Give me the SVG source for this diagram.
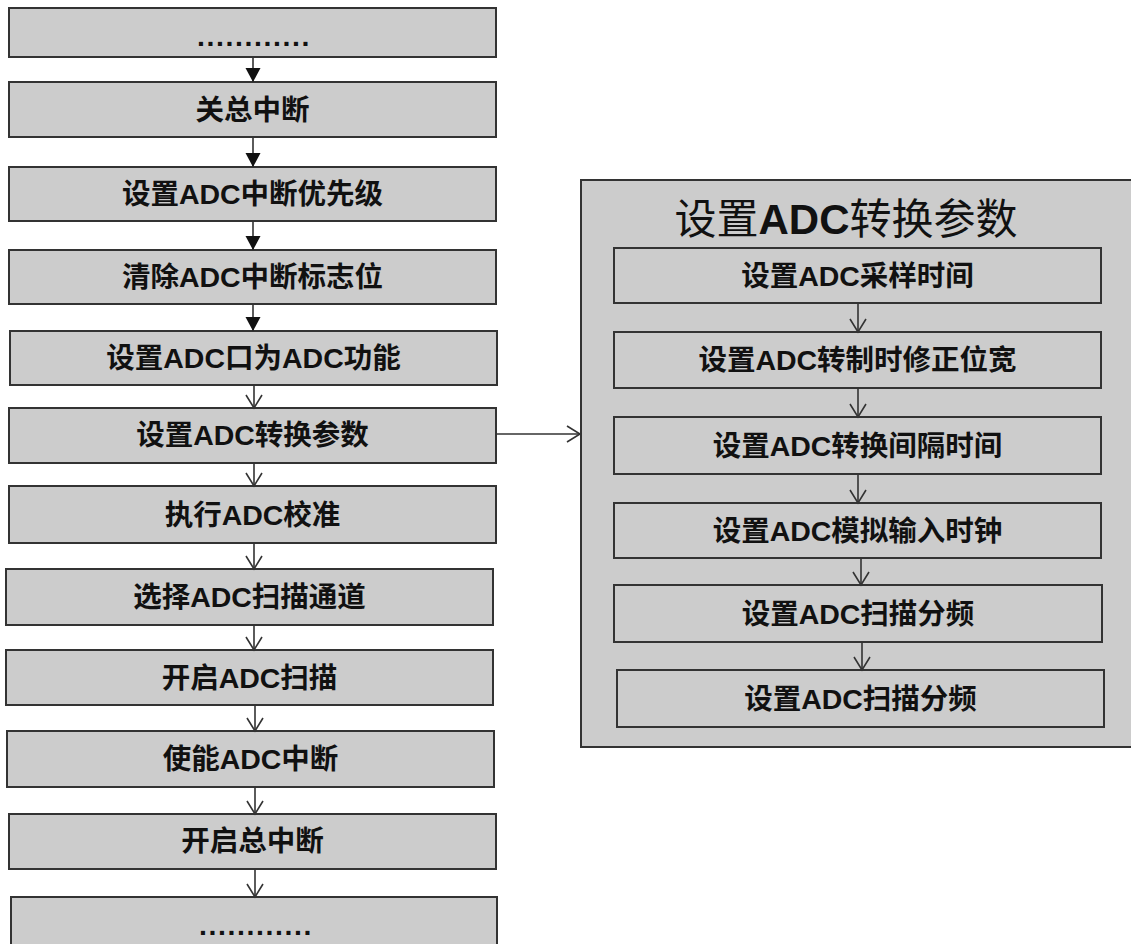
<svg xmlns="http://www.w3.org/2000/svg" width="1131" height="944" viewBox="0 0 1131 944">
<style>
.box{fill:#cccccc;stroke:#333333;stroke-width:2}
.t{font-family:"Liberation Sans","Noto Sans CJK SC",sans-serif;font-weight:bold;font-size:28.5px;fill:#111111;text-anchor:middle;dominant-baseline:central}
.dots{letter-spacing:1.6px}
.title{font-family:"Liberation Sans","Noto Sans CJK SC",sans-serif;font-size:42px;fill:#111111;text-anchor:middle;dominant-baseline:central}
.c{stroke:#333333;stroke-width:1.6;fill:none}
.f{marker-end:url(#arF)}
.o{marker-end:url(#arO)}
</style>
<defs>
<marker id="arF" markerUnits="userSpaceOnUse" viewBox="-15 -8 16 16" markerWidth="16" markerHeight="16" refX="0" refY="0" orient="auto">
<path d="M-14,-7.5 L0,0 L-14,7.5 Z" fill="#111111"/>
</marker>
<marker id="arO" markerUnits="userSpaceOnUse" viewBox="-15 -10 17 20" markerWidth="17" markerHeight="20" refX="0" refY="0" orient="auto">
<path d="M-13,-8 L0,0 L-13,8" fill="none" stroke="#333333" stroke-width="1.6"/>
</marker>
</defs>

<g id="n1"><rect class="box" x="9" y="8" width="487" height="49"/><text class="t dots" x="254" y="36">............</text></g>
<g id="n2"><rect class="box" x="9" y="82" width="487" height="55"/><text class="t" x="252.5" y="110">关总中断</text></g>
<g id="n3"><rect class="box" x="9" y="167" width="487" height="54"/><text class="t" x="252.5" y="194">设置ADC中断优先级</text></g>
<g id="n4"><rect class="box" x="9" y="250" width="487" height="54"/><text class="t" x="252.5" y="277">清除ADC中断标志位</text></g>
<g id="n5"><rect class="box" x="10" y="331" width="487" height="54"/><text class="t" x="253.5" y="358">设置ADC口为ADC功能</text></g>
<g id="n6"><rect class="box" x="9" y="408" width="487" height="55"/><text class="t" x="252.5" y="435">设置ADC转换参数</text></g>
<g id="n7"><rect class="box" x="9" y="486" width="487" height="57"/><text class="t" x="252.5" y="515">执行ADC校准</text></g>
<g id="n8"><rect class="box" x="6" y="569" width="487" height="56"/><text class="t" x="249.5" y="597">选择ADC扫描通道</text></g>
<g id="n9"><rect class="box" x="6" y="650" width="487" height="55"/><text class="t" x="249.5" y="678">开启ADC扫描</text></g>
<g id="n10"><rect class="box" x="7" y="731" width="487" height="56"/><text class="t" x="250.5" y="759">使能ADC中断</text></g>
<g id="n11"><rect class="box" x="9" y="814" width="487" height="55"/><text class="t" x="252.5" y="841">开启总中断</text></g>
<g id="n12"><rect class="box" x="11" y="897" width="486" height="60"/><text class="t dots" x="256" y="925">............</text></g>

<g id="panel">
<rect class="box" x="581" y="180" width="560" height="567"/>
<text class="title" x="846" y="219">设置<tspan font-weight="bold">ADC</tspan>转换参数</text>
</g>
<g id="r1"><rect class="box" x="614" y="248" width="487" height="55"/><text class="t" x="857.5" y="276">设置ADC采样时间</text></g>
<g id="r2"><rect class="box" x="614" y="332" width="487" height="56"/><text class="t" x="857.5" y="360">设置ADC转制时修正位宽</text></g>
<g id="r3"><rect class="box" x="614" y="417" width="487" height="57"/><text class="t" x="857.5" y="446">设置ADC转换间隔时间</text></g>
<g id="r4"><rect class="box" x="614" y="503" width="487" height="55"/><text class="t" x="857.5" y="531">设置ADC模拟输入时钟</text></g>
<g id="r5"><rect class="box" x="614" y="585" width="488" height="57"/><text class="t" x="858" y="614">设置ADC扫描分频</text></g>
<g id="r6"><rect class="box" x="617" y="670" width="487" height="57"/><text class="t" x="860.5" y="699">设置ADC扫描分频</text></g>

<g id="connectors">
<line class="c f" x1="253" y1="57" x2="253" y2="82"/>
<line class="c f" x1="253" y1="137" x2="253" y2="167"/>
<line class="c f" x1="253" y1="221" x2="253" y2="250"/>
<line class="c f" x1="253" y1="304" x2="253" y2="331"/>
<line class="c o" x1="254" y1="385" x2="254" y2="408"/>
<line class="c o" x1="254" y1="463" x2="254" y2="486"/>
<line class="c o" x1="254" y1="543" x2="254" y2="569"/>
<line class="c o" x1="254" y1="625" x2="254" y2="650"/>
<line class="c o" x1="255" y1="705" x2="255" y2="731"/>
<line class="c o" x1="255" y1="787" x2="255" y2="814"/>
<line class="c o" x1="255" y1="869" x2="255" y2="897"/>
<line class="c o" x1="496" y1="434" x2="580" y2="434"/>
<line class="c o" x1="858" y1="303" x2="858" y2="332"/>
<line class="c o" x1="858" y1="388" x2="858" y2="417"/>
<line class="c o" x1="858" y1="474" x2="858" y2="503"/>
<line class="c o" x1="861" y1="558" x2="861" y2="585"/>
<line class="c o" x1="862" y1="642" x2="862" y2="670"/>
</g>
</svg>
